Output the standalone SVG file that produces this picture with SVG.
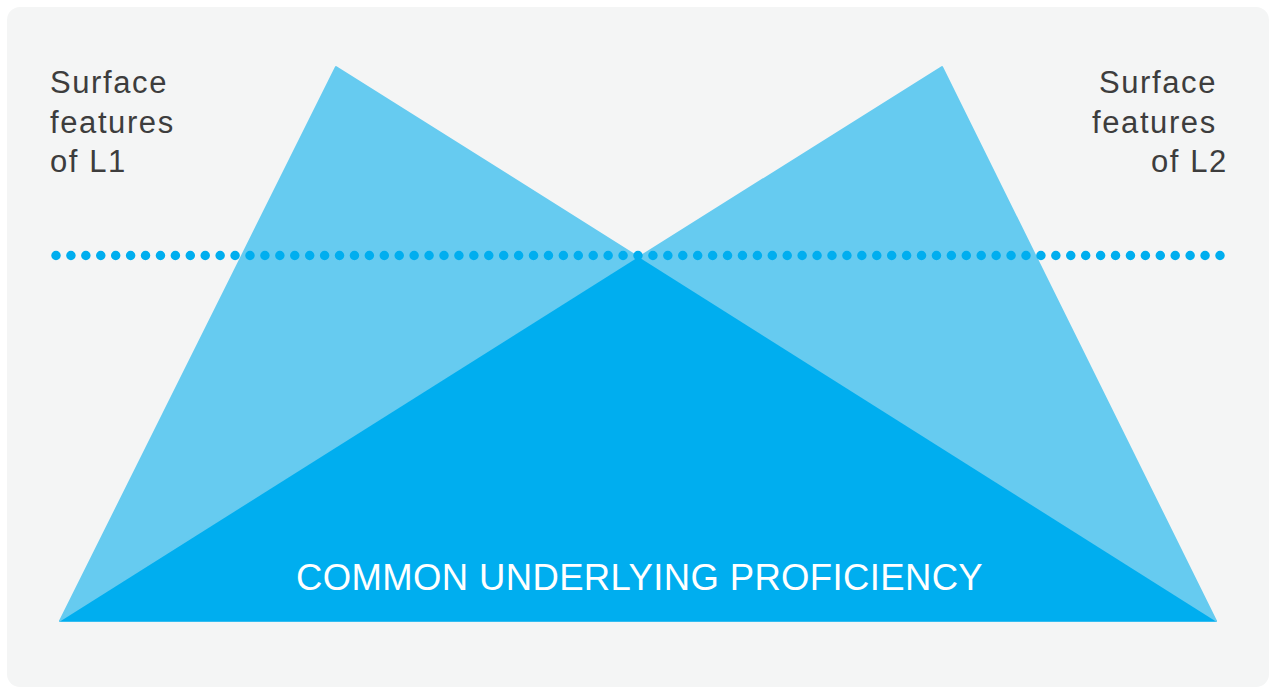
<svg xmlns="http://www.w3.org/2000/svg" width="1272" height="691" viewBox="0 0 1272 691">
  <style>
    .label { font-family: "Liberation Sans", Arial, sans-serif; font-size: 31px; letter-spacing: 1.6px; fill: #3d3d3d; }
    .cup { font-family: "Liberation Sans", Arial, sans-serif; font-size: 36.5px; letter-spacing: 0.36px; fill: #ffffff; }
    .light { fill: #66cbf0; stroke: #66cbf0; stroke-width: 2; stroke-linejoin: round; }
    .dark { fill: #00aeef; }
  </style>
  <rect x="0" y="0" width="1272" height="691" fill="#ffffff"/>
  <rect id="background" x="7" y="7" width="1262" height="680" rx="13" ry="13" fill="#f4f5f5"/>
  <g id="triangle-L1">
    <polygon class="light" points="336,67 60,621 1216,621"/>
  </g>
  <g id="triangle-L2">
    <polygon class="light" points="942,67 1216,621 60,621"/>
  </g>
  <g id="common-underlying-proficiency">
    <polygon class="dark" points="60,621.5 1216,621.5 638.5,257"/>
    <text class="cup" x="296" y="590">COMMON UNDERLYING PROFICIENCY</text>
  </g>
  <g id="connectors">
    <line x1="56" y1="255.5" x2="1220" y2="255.5" stroke="#00aeef" stroke-width="9.5" stroke-linecap="round" stroke-dasharray="0 14.923"/>
  </g>
  <g id="label-L1">
    <text class="label" x="50" y="93">Surface</text>
    <text class="label" x="50" y="133">features</text>
    <text class="label" x="50" y="172">of L1</text>
  </g>
  <g id="label-L2">
    <text class="label" x="1099" y="93">Surface</text>
    <text class="label" x="1092" y="133">features</text>
    <text class="label" x="1151" y="172">of L2</text>
  </g>
</svg>
